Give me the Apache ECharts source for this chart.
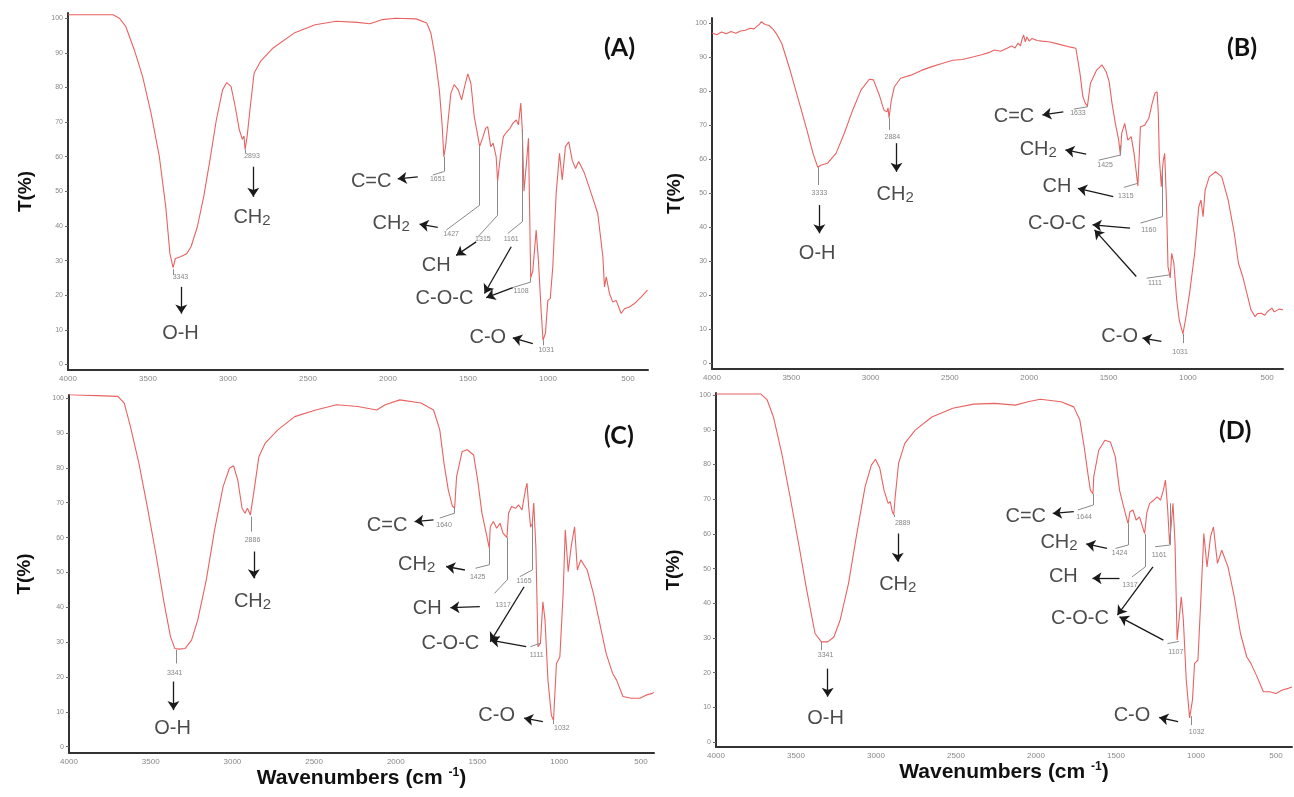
<!DOCTYPE html>
<html>
<head>
<meta charset="utf-8">
<title>FTIR spectra</title>
<script src="https://cdn.jsdelivr.net/npm/echarts@6.0.0/dist/echarts.min.js"></script>
<style>
  html, body { margin: 0; padding: 0; background: #fff; }
  #main { width: 1294px; height: 797px; }
</style>
</head>
<body>
<div id="main"></div>
<script>
// tick labels
const xTicks = [4000, 3500, 3000, 2500, 2000, 1500, 1000, 500];
const yTicks = [0, 10, 20, 30, 40, 50, 60, 70, 80, 90, 100];

// (A) spectrum, wavenumber (cm-1) and transmittance (%)
const wnA = [4000,3718,3679,3639,3586,3534,3481,3429,3389,3363,3343,3329,3297,3258,3231,3192,3152,3113,3073,3034,3008,2981,2955,2929,2910,2900,2893,2880,2863,2837,2797,2718,2587,2455,2324,2192,2113,2034,1956,1824,1758,1732,1706,1679,1661,1651,1640,1624,1607,1587,1561,1540,1521,1501,1482,1461,1442,1427,1408,1390,1377,1358,1343,1324,1315,1298,1279,1258,1237,1219,1198,1185,1170,1161,1150,1135,1122,1115,1108,1095,1074,1060,1043,1031,1016,1001,986,970,949,928,911,891,870,849,828,808,772,730,689,657,647,636,616,595,574,543,522,491,459,439,417,397,378];
const tA = [101,101,100,97.6,90.9,83.2,72.6,60,45.5,32,28,30.6,31.1,32,34,39.7,48.4,59,70.6,79.3,81.4,80.3,74.5,67.7,65,66,62,66,73.5,84.1,87.5,91.4,95.7,98.1,99.1,98.8,98.4,99.6,100,99.8,98.6,95.7,88.9,79.3,68.7,60,63,70.6,78.3,80.8,79.3,76.4,80.3,83.9,81.2,71.6,66.8,63,65.5,68.2,68.7,62.9,63.9,60,53,60,65.8,67.2,68.2,69.7,70.6,69.2,75.5,68,50,58,65.3,45,25,27,38.8,30,15.6,7,9,18.5,19,28.2,49.4,61,53.3,62.9,64.3,59,56.6,58.6,55.2,49.4,43.6,31.1,22.4,25.3,20.5,18,18.5,14.7,16.1,16.6,17.6,18.5,19.5,20.5,21.5];

// (B)
const wnB = [4000,3970,3940,3910,3880,3850,3820,3790,3760,3735,3715,3700,3690,3680,3665,3640,3613,3590,3560,3508,3455,3402,3363,3333,3310,3271,3218,3166,3113,3061,3008,2982,2942,2916,2897,2890,2884,2870,2850,2811,2745,2680,2614,2550,2482,2420,2350,2300,2250,2219,2180,2140,2110,2090,2070,2055,2045,2035,2025,2015,2000,1982,1950,1920,1877,1820,1746,1706,1680,1662,1646,1633,1614,1575,1541,1515,1496,1478,1457,1436,1425,1417,1398,1378,1357,1339,1315,1305,1299,1272,1246,1225,1207,1194,1186,1180,1167,1160,1154,1146,1135,1125,1111,1102,1088,1070,1054,1031,1015,989,957,931,917,904,891,865,825,786,746,707,681,654,628,602,576,560,537,515,497,470,455,444,425,400];
const tB = [97,96.5,97.3,96.8,97.4,96.9,97.6,97.8,98.4,98.2,99,99.6,100.3,100.5,99.5,99.2,98,96.5,93.9,86.1,77.3,68.5,61.6,57.5,58.2,58.7,61.6,67.5,74.3,80.2,83.4,83.2,78.3,74.3,73.8,75,72,77,81.2,83.7,84.6,86,87.1,88,89,89.2,90,90.6,91.3,92,91.6,92.5,93.2,92.6,94,93.2,95.2,96.4,94.4,95.8,94.6,95.4,94.8,94.6,94.4,93.8,92.9,92.5,85.1,78.3,76.3,75.5,82.2,86.1,87.6,85.6,82.7,76.3,70.4,65.5,61,67.5,70.4,65.5,66.5,61.6,52,62.6,69.4,69.9,71.9,76.3,79.3,79.7,73.4,60.6,51.8,57,59.7,61.6,47.9,28.3,25,32.2,29.3,18.5,12.6,8.5,12.6,20.5,32.2,45.9,47.9,43,50.8,54.7,56.2,54.7,47.9,38.1,29.3,25.4,20.5,15.6,13.6,14.5,14.6,14,15.1,16.1,15,14.6,15.8,15.6];

// (C)
const wnC = [4000,3701,3662,3624,3572,3521,3469,3418,3379,3353,3327,3289,3250,3212,3160,3109,3057,3018,2993,2967,2941,2923,2908,2890,2886,2864,2838,2799,2722,2619,2490,2362,2233,2117,2065,1975,1846,1769,1731,1705,1679,1654,1640,1628,1594,1563,1524,1499,1473,1447,1428,1422,1403,1383,1362,1344,1320,1310,1292,1267,1249,1228,1207,1197,1187,1175,1165,1156,1143,1130,1115,1100,1087,1069,1048,1035,1017,996,976,963,945,927,906,889,868,829,791,752,713,674,649,610,559,507,469,430,420];
const tC = [101,100.5,98.6,91.8,81.3,68.9,55.5,41.2,31.6,28.2,28,28.2,30.6,36.4,47.8,62.2,74.6,79.9,80.6,76.5,68.4,67,68.4,66.5,66,74.6,83.2,87.1,90.9,94.7,96.6,98.1,97.6,96.6,98.1,99.5,98.6,96.6,90.9,81.3,73.7,69,68.5,77.5,84.7,85.2,83.7,76.5,67,61.3,57,63.1,64.6,62.7,64.1,61.3,60,67,68.9,68.4,69.4,67.9,73.7,75.6,68.9,63,64,69.9,57.4,28.7,29.7,41.6,36.4,19.1,9,7.5,23.9,25.8,44,62.2,50.2,57.4,63.1,50.7,53.6,50.7,44,35.4,26.8,21.1,19.1,14.4,13.9,13.9,14.8,15.3,15.6];

// (D)
const wnD = [4000,3719,3680,3641,3589,3537,3484,3433,3381,3341,3302,3263,3224,3172,3120,3068,3029,3003,2976,2950,2924,2911,2898,2889,2880,2859,2820,2755,2651,2520,2390,2259,2129,2051,1973,1843,1764,1726,1699,1673,1660,1644,1639,1608,1569,1535,1504,1478,1452,1431,1424,1413,1394,1374,1353,1334,1321,1317,1308,1290,1264,1243,1222,1204,1191,1178,1165,1161,1144,1131,1118,1107,1092,1079,1061,1040,1032,1022,1009,988,969,951,931,909,891,866,839,800,761,722,683,657,618,579,539,500,461,423,400];
const tD = [100.3,100.3,98.6,93.7,83.2,70.7,57.3,43.8,31.3,28.9,28.9,30.3,35.2,45.7,60.1,73.6,79.8,81.5,78.9,72.6,68.8,69.3,66.4,65.5,70.7,80.3,86.1,89.9,93.7,96.2,97.4,97.6,97.1,98.1,98.8,98.1,96.6,92.8,85.1,76.5,72.6,71.5,76.5,84.1,87,86.5,82.2,72.6,67.8,64,63,66.4,66.9,64,64.9,62,60.1,60,65.9,68.8,69.7,70.7,69.7,72.6,75.5,67.8,57,57.5,68.8,57.3,29.4,29,41.9,35.2,17.9,7,7.5,12.1,22.7,23.6,41.9,60.1,50.5,59.2,62,51.5,55.3,50.5,41.9,31.3,24.6,22.7,18.8,14.5,14.5,14,15,15.5,15.9];

// band assignments and peak labels, placed in data coordinates
const notes = [
  { // A
    groups: [['O-H',[3297,8.9]],['CH2',[2850,42.2]],['C=C',[2105,52.8]],['CH2',[1980,40.5]],['CH',[1699,28.7]],['C-O-C',[1647,19.0]],['C-O',[1376,7.9]]],
    arrows: [[[3292,22.4],[3292,14.7]],[[2842,57.1],[2842,48.4]],[[1814,54.2],[1939,53.6]],[[1689,39.6],[1803,40.5]],[[1449,35.4],[1574,31.5]],[[1230,34.0],[1397,20.5]],[[1220,22.2],[1386,19.3]],[[1095,6.0],[1220,7.7]]],
    peaks: [['3343',[3297,25.3],[[3343,27.5],[3343,25.8]]],['2893',[2850,60.3],[[2893,62],[2893,61]]],['1651',[1689,53.5],[[1651,60],[1651,55.7],[1720,54.7]]],['1427',[1605,37.6],[[1427,63],[1427,46],[1636,38.8]]],['1315',[1407,36.1],[[1315,53],[1315,43.1],[1439,36.8]]],['1161',[1230,36.1],[[1161,68],[1161,41.2],[1252,37.8]]],['1108',[1168,21.2],[[1108,25],[1108,23.8],[1220,22.2]]],['1031',[1011,4.1],[[1031,7],[1031,5.5]]]]
  },
  { // B
    groups: [['O-H',[3337,32.2]],['CH2',[2845,49.4]],['C=C',[2096,72.4]],['CH2',[1943,62.6]],['CH',[1825,51.8]],['C-O-C',[1825,41.1]],['C-O',[1430,7.7]]],
    arrows: [[[3323,46.4],[3323,38.1]],[[2837,64.6],[2837,56.2]],[[1785,73.8],[1917,72.9]],[[1641,61.4],[1772,62.6]],[[1470,48.9],[1693,51.3]],[[1364,39.6],[1601,40.6]],[[1325,25.4],[1588,39.1]],[[1167,6.3],[1286,7.3]]],
    peaks: [['3333',[3323,49.9],[[3333,57.5],[3333,52.3]]],['2884',[2863,66.5],[[2884,72],[2884,68.5]]],['1633',[1693,73.4],[[1633,75.5],[1633,75.3],[1719,74.6]]],['1425',[1522,58.2],[[1425,64],[1425,61.1],[1562,59.6]]],['1315',[1391,48.9],[[1315,52.8],[1404,51.6]]],['1160',[1246,39.1],[[1160,57],[1160,43],[1299,41.1]]],['1111',[1207,23.4],[[1111,25.9],[1259,24.9]]],['1031',[1049,3.3],[[1031,8.5],[1031,5.8]]]]
  },
  { // C
    groups: [['O-H',[3366,5.3]],['CH2',[2877,41.6]],['C=C',[2053,63.6]],['CH2',[1872,52.2]],['CH',[1808,39.7]],['C-O-C',[1666,29.7]],['C-O',[1383,9.1]]],
    arrows: [[[3361,18.7],[3361,10.5]],[[2869,56],[2869,48.3]],[[1769,65.1],[1885,64.6]],[[1577,50.7],[1692,51.7]],[[1486,40.2],[1666,39.9]],[[1215,45.9],[1422,30.1]],[[1202,28.7],[1422,30.6]],[[1100,7.2],[1215,8.2]]],
    peaks: [['3341',[3353,21.1],[[3341,27.8],[3341,23.9]]],['2886',[2877,59.3],[[2886,66],[2886,61.7]]],['1640',[1705,63.6],[[1640,68.5],[1640,67],[1731,65.6]]],['1425',[1499,48.8],[[1428,57],[1428,52.2],[1512,51.2]]],['1317',[1344,40.7],[[1320,60],[1320,47.8],[1396,44]]],['1165',[1215,47.4],[[1165,64],[1165,50.7],[1241,48.8]]],['1111',[1138,26.3],[[1115,29.7],[1177,28.7]]],['1032',[984,5.3],[[1035,7.5],[1035,6.5]]]]
  },
  { // D
    groups: [['O-H',[3315,6.8]],['CH2',[2864,45.2]],['C=C',[2064,64.9]],['CH2',[1856,57.3]],['CH',[1829,47.6]],['C-O-C',[1725,35.6]],['C-O',[1400,7.8]]],
    arrows: [[[3302,21.2],[3302,13.1]],[[2864,60.1],[2864,52]],[[1764,66.4],[1895,65.9]],[[1556,55.8],[1686,57.1]],[[1478,47.2],[1647,47.2]],[[1269,50.5],[1491,36.6]],[[1204,29.4],[1478,36.1]],[[1112,5.9],[1230,7.1]]],
    peaks: [['3341',[3315,25.1],[[3341,28.9],[3341,26.5]]],['2889',[2833,63],[[2889,65.5],[2889,64.9]]],['1644',[1699,64.9],[[1644,71.5],[1644,68.3],[1738,66.9]]],['1424',[1478,54.4],[[1424,63],[1424,56.8],[1504,55.8]]],['1317',[1413,45.2],[[1317,60],[1317,50.5],[1400,47.6]]],['1161',[1230,53.9],[[1161,68.8],[1161,56.8],[1256,56.3]]],['1107',[1126,26],[[1107,29],[1178,28.4]]],['1032',[996,3],[[1032,7.5],[1032,4.9]]]]
  }
];

const spectra = [[wnA, tA], [wnB, tB], [wnC, tC], [wnD, tD]];
const panelNames = ['(A)', '(B)', '(C)', '(D)'];

// layout of the four panels
const grids = [
  { left: 68, top: 13, width: 580, height: 357 },
  { left: 712, top: 18, width: 571, height: 351 },
  { left: 69, top: 395, width: 585, height: 358 },
  { left: 716, top: 393, width: 576, height: 354 }
];
const xMins = [375, 400, 420, 400];
const yRanges = [[-1.6, 101.5], [-1.8, 101.4], [-1.8, 100.9], [-1.4, 100.6]];
const yNameGaps = [33, 28, 35, 33];
const titlePos = [[599, 30], [1222, 30], [599, 418], [1214, 413]];

const lineColor = '#e96262';
const ink = '#1e1e1e';
const sans = 'Liberation Sans';

var chart = echarts.init(document.getElementById('main'));

var xAxes = [], yAxes = [], series = [], titles = [];

grids.forEach(function (g, i) {
  g.outerBoundsMode = 'none';
  var named = i >= 2;
  xAxes.push({
    type: 'value', gridIndex: i, inverse: true, min: xMins[i], max: 4000,
    axisLine: { show: true, onZero: false, lineStyle: { color: '#333', width: 2 } },
    axisTick: { show: false },
    splitLine: { show: false },
    axisLabel: {
      customValues: xTicks, fontSize: 8, color: '#888', margin: 5, fontFamily: sans,
      formatter: function (v) { return String(v); }
    },
    name: named ? '{a|Wavenumbers (cm }{b|-1}{a|)}' : '',
    nameLocation: 'middle',
    nameGap: 14,
    nameTextStyle: {
      rich: {
        a: { fontSize: 21, fontWeight: 'bold', color: '#111', fontFamily: sans },
        b: { fontSize: 12, fontWeight: 'bold', color: '#111', fontFamily: sans, padding: [0, 0, 10, 0] }
      }
    }
  });
  yAxes.push({
    type: 'value', gridIndex: i, min: yRanges[i][0], max: yRanges[i][1],
    axisLine: { show: true, onZero: false, lineStyle: { color: '#333', width: 2 } },
    axisTick: { show: true, length: 3, customValues: yTicks, lineStyle: { color: '#666' } },
    splitLine: { show: false },
    axisLabel: { customValues: yTicks, fontSize: 7, color: '#888', margin: 5, fontFamily: sans },
    name: 'T(%)', nameLocation: 'middle', nameRotate: 90, nameGap: yNameGaps[i],
    nameTextStyle: { fontSize: 19, fontWeight: 'bold', color: '#111', fontFamily: sans }
  });

  var wn = spectra[i][0], tr = spectra[i][1];
  var n = notes[i];

  series.push({
    type: 'line', xAxisIndex: i, yAxisIndex: i, silent: true,
    data: wn.map(function (w, k) { return [w, tr[k]]; }),
    showSymbol: false, symbol: 'none',
    lineStyle: { color: lineColor, width: 1.1 }
  });

  series.push({
    type: 'scatter', xAxisIndex: i, yAxisIndex: i, silent: true,
    symbolSize: 1, itemStyle: { color: 'rgba(0,0,0,0)' },
    data: n.groups.map(function (gr) { return { name: gr[0], value: gr[1] }; }),
    label: {
      show: true, position: 'inside', fontSize: 20, color: ink, fontFamily: sans,
      formatter: function (p) { return p.name === 'CH2' ? '{m|CH}{s|2}' : p.name; },
      rich: {
        m: { fontSize: 20, color: ink, fontFamily: sans, verticalAlign: 'top' },
        s: { fontSize: 15, color: ink, fontFamily: sans, verticalAlign: 'top', padding: [6, 0, 0, 0] }
      }
    },
    markLine: {
      silent: true, animation: false,
      symbol: ['none', 'arrow'], symbolSize: 9,
      label: { show: false },
      lineStyle: { color: '#1a1a1a', width: 1.3, type: 'solid' },
      data: n.arrows.map(function (a) { return [{ coord: a[0] }, { coord: a[1] }]; })
    }
  });

  var leaders = [];
  n.peaks.forEach(function (p) {
    var pts = p[2] || [];
    for (var k = 0; k < pts.length - 1; k++) {
      leaders.push([{ coord: pts[k] }, { coord: pts[k + 1] }]);
    }
  });
  series.push({
    type: 'scatter', xAxisIndex: i, yAxisIndex: i, silent: true,
    symbolSize: 1, itemStyle: { color: 'rgba(0,0,0,0)' },
    data: n.peaks.map(function (p) { return { name: p[0], value: p[1] }; }),
    label: { show: true, position: 'inside', formatter: '{b}', fontSize: 7, color: '#666', fontFamily: sans },
    markLine: {
      silent: true, animation: false,
      symbol: ['none', 'none'],
      label: { show: false },
      lineStyle: { color: '#8a8a8a', width: 1, type: 'solid' },
      data: leaders
    }
  });

  titles.push({
    text: panelNames[i], left: titlePos[i][0], top: titlePos[i][1],
    textStyle: { fontSize: 25, fontWeight: 'bold', color: '#111', fontFamily: 'Lato' }
  });
});

chart.setOption({
  animation: false,
  backgroundColor: '#fff',
  title: titles,
  grid: grids,
  xAxis: xAxes,
  yAxis: yAxes,
  series: series
});
</script>
</body>
</html>
